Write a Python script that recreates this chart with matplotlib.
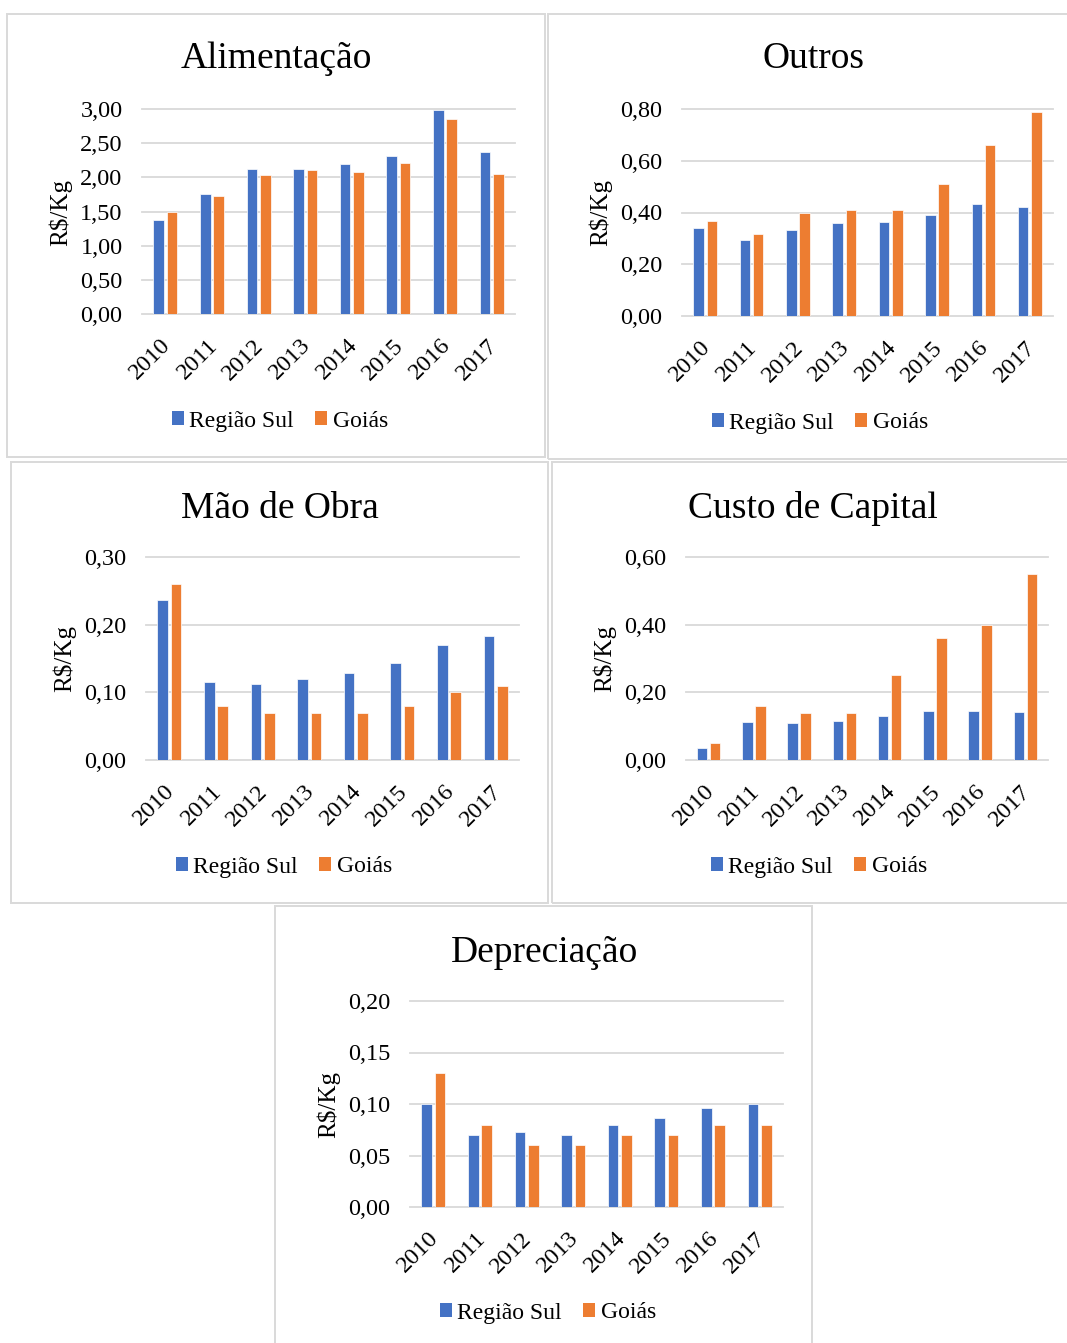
import numpy as np
import matplotlib.pyplot as plt
from matplotlib.patches import Rectangle, Patch
from matplotlib.transforms import ScaledTranslation

plt.rcParams['font.family'] = ['Liberation Serif', 'DejaVu Serif']

W, H = 1067, 1343

anos = ['2010', '2011', '2012', '2013', '2014', '2015', '2016', '2017']

alimentacao_sul = [1.37, 1.75, 2.12, 2.12, 2.20, 2.31, 2.98, 2.37]
alimentacao_goias = [1.50, 1.73, 2.04, 2.11, 2.08, 2.21, 2.86, 2.05]

outros_sul = [0.342, 0.295, 0.333, 0.359, 0.363, 0.390, 0.434, 0.423]
outros_goias = [0.368, 0.317, 0.40, 0.41, 0.41, 0.51, 0.66, 0.79]

mao_obra_sul = [0.237, 0.116, 0.113, 0.120, 0.129, 0.143, 0.170, 0.183]
mao_obra_goias = [0.26, 0.08, 0.07, 0.07, 0.07, 0.08, 0.10, 0.11]

capital_sul = [0.035, 0.112, 0.109, 0.116, 0.131, 0.145, 0.145, 0.142]
capital_goias = [0.05, 0.16, 0.14, 0.14, 0.25, 0.36, 0.40, 0.55]

depreciacao_sul = [0.10, 0.07, 0.073, 0.07, 0.08, 0.086, 0.096, 0.10]
depreciacao_goias = [0.13, 0.08, 0.06, 0.06, 0.07, 0.07, 0.08, 0.08]

AZUL = '#4472C4'
LARANJA = '#ED7D31'
CINZA = '#D9D9D9'


def fx(px):
    return px / W


def fy(py):
    return 1 - py / H


def painel(fig, caixa, area, titulo, tit_xy, ylab_xy, leg_xy, sul, goias, ymax, passo):
    # moldura do gráfico
    x0, y0, x1, y1 = caixa
    fig.add_artist(Rectangle((fx(x0), fy(y1)), (x1 - x0) / W, (y1 - y0) / H,
                             transform=fig.transFigure, fill=False,
                             edgecolor=CINZA, lw=1.4))

    l, t, r, b = area
    ax = fig.add_axes([fx(l), fy(b), (r - l) / W, (b - t) / H])
    x = np.arange(len(anos))
    w = 0.228
    ax.bar(x - 0.143, sul, w, color=AZUL, edgecolor='white', lw=0.5, zorder=3)
    ax.bar(x + 0.143, goias, w, color=LARANJA, edgecolor='white', lw=0.5, zorder=3)
    ax.set_xlim(-0.5, len(anos) - 0.5)
    ax.set_ylim(0, ymax)

    ticks = np.arange(0, ymax + passo / 2, passo)
    for v in ticks:
        ax.axhline(v, color=CINZA, lw=1.3, zorder=1, clip_on=False)
    ax.set_yticks(ticks)
    ax.set_yticklabels([f'{v:.2f}'.replace('.', ',') for v in ticks])
    ax.set_xticks(x)
    ax.set_xticklabels(anos, rotation=45, ha='right', va='top')
    ax.tick_params(length=0, labelsize=17.5)
    ax.tick_params(axis='y', pad=14)
    ax.tick_params(axis='x', pad=15)
    desloc = ScaledTranslation(7 / 72, 0, fig.dpi_scale_trans)
    for lbl in ax.get_xticklabels():
        lbl.set_transform(lbl.get_transform() + desloc)
    for s in ax.spines.values():
        s.set_visible(False)

    fig.text(fx(tit_xy[0]), fy(tit_xy[1]), titulo, ha='center', va='baseline',
             fontsize=27)
    fig.text(fx(ylab_xy[0]), fy(ylab_xy[1]), 'R\\$/Kg', rotation=90,
             ha='center', va='center', fontsize=18)

    handles = [Patch(facecolor=AZUL, label='Região Sul'),
               Patch(facecolor=LARANJA, label='Goiás')]
    fig.legend(handles=handles, loc='center',
               bbox_to_anchor=(fx(leg_xy[0]), fy(leg_xy[1])),
               ncol=2, frameon=False, fontsize=17, handlelength=0.5,
               handleheight=0.5, handletextpad=0.25, columnspacing=0.9,
               borderpad=0, borderaxespad=0)
    return ax


fig = plt.figure(figsize=(W / 100, H / 100), dpi=100)

painel(fig, (7, 14, 545, 457), (142, 109, 515, 314), 'Alimentação',
       (276, 68), (60, 212), (280, 421), alimentacao_sul, alimentacao_goias, 3.0, 0.5)
painel(fig, (548, 14, 1080, 459), (682, 109, 1053, 316), 'Outros',
       (814, 68), (600, 212), (820, 423), outros_sul, outros_goias, 0.8, 0.2)
painel(fig, (11, 462, 548, 903), (146, 557, 519, 760), 'Mão de Obra',
       (280, 518), (64, 658), (284, 867), mao_obra_sul, mao_obra_goias, 0.3, 0.1)
painel(fig, (552, 462, 1080, 903), (686, 557, 1048, 760), 'Custo de Capital',
       (813, 518), (604, 658), (819, 867), capital_sul, capital_goias, 0.6, 0.2)
painel(fig, (275, 906, 812, 1360), (410, 1001, 783, 1207), 'Depreciação',
       (544, 962), (328, 1105), (548, 1313), depreciacao_sul, depreciacao_goias, 0.2, 0.05)

fig.savefig('out.png', dpi=100)
